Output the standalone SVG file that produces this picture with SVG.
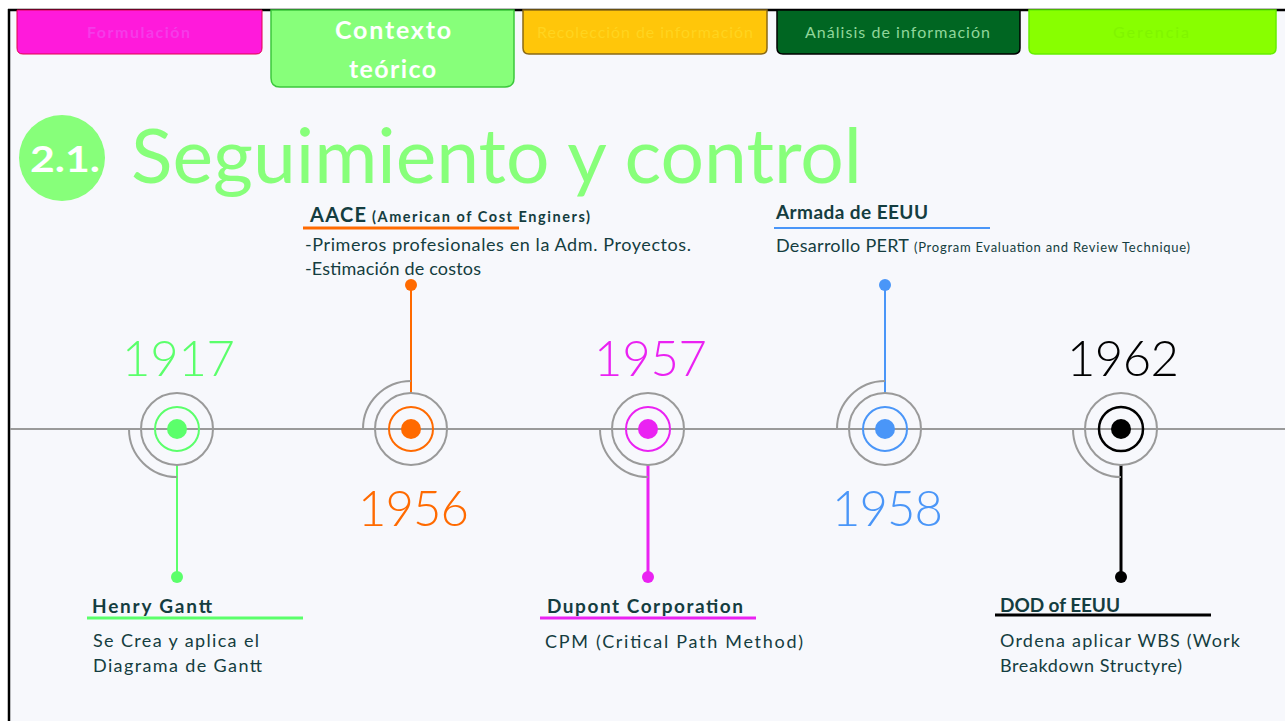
<svg xmlns="http://www.w3.org/2000/svg" width="1285" height="721" viewBox="0 0 1285 721">
<style>
  text { font-family: Lato, "Liberation Sans", sans-serif; }
  .tab { font-size: 16px; }
  .year { font-size: 49px; font-weight: 300; }
  .hd { font-size: 19px; font-weight: bold; fill: #143D40; }
  .bd { font-size: 18px; fill: #143D40; }
  .ring { fill: none; stroke: #9A9A9A; stroke-width: 2; }
  .tl { stroke: #9A9A9A; stroke-width: 2; fill: none; }
</style>
<rect x="0" y="0" width="1285" height="721" fill="#FFFFFF"/>
<rect x="9" y="10" width="1276" height="711" fill="#F7F8FC"/>
<line x1="8" y1="10" x2="1285" y2="10" stroke="#000" stroke-width="2.5"/>
<line x1="9" y1="9" x2="9" y2="721" stroke="#000" stroke-width="2.5"/>

<g id="tabs">
  <g id="tab-formulacion">
    <path d="M17,10 H262 V48 Q262,54 256,54 H23 Q17,54 17,48 Z" fill="#FF1ADB" stroke="#E0004A" stroke-width="1"/>
    <text class="tab" x="87" y="38" fill="#F53BE8" font-weight="bold" textLength="103">Formulación</text>
  </g>
  <g id="tab-contexto">
    <path d="M271,10 H514 V78 Q514,87 505,87 H280 Q271,87 271,78 Z" fill="#87FF7A" stroke="#3CC83C" stroke-width="1.5"/>
    <text x="335" y="39" fill="#FFFFFF" font-size="25" font-weight="bold" textLength="116">Contexto</text>
    <text x="349" y="78" fill="#FFFFFF" font-size="25" font-weight="bold" textLength="87">teórico</text>
  </g>
  <g id="tab-recoleccion">
    <path d="M523,10 H767 V48 Q767,54 761,54 H529 Q523,54 523,48 Z" fill="#FFC60A" stroke="#8B6914" stroke-width="1.5"/>
    <text class="tab" x="537" y="38" fill="#FFD41F" textLength="216">Recolección de información</text>
  </g>
  <g id="tab-analisis">
    <path d="M777,10 H1020 V48 Q1020,54 1014,54 H783 Q777,54 777,48 Z" fill="#006622" stroke="#000" stroke-width="1.5"/>
    <text class="tab" x="805" y="38" fill="#8FD69A" textLength="185">Análisis de información</text>
  </g>
  <g id="tab-gerencia">
    <path d="M1029,10 H1276 V48 Q1276,54 1270,54 H1035 Q1029,54 1029,48 Z" fill="#88FF00" stroke="#66EE00" stroke-width="1.5"/>
    <text class="tab" x="1113" y="38" fill="#80F500" textLength="76">Gerencia</text>
  </g>
</g>

<g id="title">
  <circle cx="62" cy="158" r="43" fill="#87FF7A"/>
  <text x="30" y="172" fill="#FFFFFF" font-size="37" font-weight="bold" textLength="70" lengthAdjust="spacingAndGlyphs">2.1.</text>
  <text x="131" y="183" fill="#87FF7A" font-size="76" textLength="731" lengthAdjust="spacingAndGlyphs">Seguimiento y control</text>
</g>

<line id="timeline" x1="10" y1="429" x2="1285" y2="429" class="tl"/>

<g id="connectors">
  <line x1="177" y1="465" x2="177" y2="577" stroke="#5BFF6B" stroke-width="2"/>
  <line x1="411" y1="393" x2="411" y2="285" stroke="#FF6A00" stroke-width="2"/>
  <line x1="648" y1="465" x2="648" y2="577" stroke="#EA22F2" stroke-width="3"/>
  <line x1="885" y1="393" x2="885" y2="285" stroke="#4A96F8" stroke-width="2"/>
  <line x1="1121" y1="465" x2="1121" y2="577" stroke="#000" stroke-width="3"/>
</g>

<g id="node-1917">
  <path class="ring" d="M129,429 A48,48 0 0 0 177,477"/>
  <circle class="ring" cx="177" cy="429" r="36"/>
  <circle cx="177" cy="429" r="22" fill="none" stroke="#5BFF6B" stroke-width="2"/>
  <circle cx="177" cy="429" r="10" fill="#5BFF6B"/>
  <circle cx="177" cy="577" r="6" fill="#5BFF6B"/>
  <text class="year" x="122" y="376" fill="#5BFF6B" textLength="113">1917</text>
  <text class="hd" x="92" y="613" textLength="120">Henry Gantt</text>
  <line x1="87" y1="618" x2="303" y2="618" stroke="#5BFF6B" stroke-width="3"/>
  <text class="bd" x="93" y="647" textLength="166">Se Crea y aplica el</text>
  <text class="bd" x="93" y="672" textLength="169">Diagrama de Gantt</text>
</g>

<g id="node-1956">
  <path class="ring" d="M363,429 A48,48 0 0 1 411,381"/>
  <circle class="ring" cx="411" cy="429" r="36"/>
  <circle cx="411" cy="429" r="22" fill="none" stroke="#FF6A00" stroke-width="2"/>
  <circle cx="411" cy="429" r="10" fill="#FF6A00"/>
  <circle cx="411" cy="285" r="6" fill="#FF6A00"/>
  <text class="year" x="358" y="526" fill="#FF6A00" textLength="111">1956</text>
  <text x="310" y="222" fill="#143D40" font-weight="bold" font-size="20" textLength="56">AACE</text>
  <text x="372" y="222" fill="#143D40" font-weight="bold" font-size="14.5" textLength="218">(American of Cost Enginers)</text>
  <line x1="303" y1="228" x2="519" y2="228" stroke="#FF6A00" stroke-width="3"/>
  <text class="bd" x="305" y="251" textLength="386">-Primeros profesionales en la Adm. Proyectos.</text>
  <text class="bd" x="305" y="275" textLength="176">-Estimación de costos</text>
</g>

<g id="node-1957">
  <path class="ring" d="M600,429 A48,48 0 0 0 648,477"/>
  <circle class="ring" cx="648" cy="429" r="36"/>
  <circle cx="648" cy="429" r="22" fill="none" stroke="#EA22F2" stroke-width="2"/>
  <circle cx="648" cy="429" r="10" fill="#EA22F2"/>
  <circle cx="648" cy="577" r="6" fill="#EA22F2"/>
  <text class="year" x="594" y="376" fill="#EA22F2" textLength="113">1957</text>
  <text class="hd" x="547" y="613" textLength="196">Dupont Corporation</text>
  <line x1="540" y1="618" x2="756" y2="618" stroke="#EA22F2" stroke-width="3"/>
  <text class="bd" x="545" y="648" font-size="19" textLength="258">CPM (Critical Path Method)</text>
</g>

<g id="node-1958">
  <path class="ring" d="M837,429 A48,48 0 0 1 885,381"/>
  <circle class="ring" cx="885" cy="429" r="36"/>
  <circle cx="885" cy="429" r="22" fill="none" stroke="#4A96F8" stroke-width="2"/>
  <circle cx="885" cy="429" r="10" fill="#4A96F8"/>
  <circle cx="885" cy="285" r="6" fill="#4A96F8"/>
  <text class="year" x="832" y="526" fill="#4A96F8" textLength="111">1958</text>
  <text class="hd" x="776" y="219" font-size="18" textLength="152">Armada de EEUU</text>
  <line x1="774" y1="228" x2="990" y2="228" stroke="#4A96F8" stroke-width="2"/>
  <text class="bd" x="776" y="252" textLength="133">Desarrollo PERT</text>
  <text x="914" y="252" fill="#143D40" font-size="13" textLength="276">(Program Evaluation and Review Technique)</text>
</g>

<g id="node-1962">
  <path class="ring" d="M1073,429 A48,48 0 0 0 1121,477"/>
  <circle class="ring" cx="1121" cy="429" r="36"/>
  <circle cx="1121" cy="429" r="22" fill="none" stroke="#000" stroke-width="2.5"/>
  <circle cx="1121" cy="429" r="10" fill="#000"/>
  <circle cx="1121" cy="577" r="6" fill="#000"/>
  <text class="year" x="1067" y="376" fill="#000" textLength="112">1962</text>
  <text class="hd" x="1000" y="612" font-size="18" textLength="120">DOD of EEUU</text>
  <line x1="995" y1="615" x2="1211" y2="615" stroke="#000" stroke-width="3"/>
  <text class="bd" x="1000" y="647" textLength="240">Ordena aplicar WBS (Work</text>
  <text class="bd" x="1000" y="672" textLength="182">Breakdown Structyre)</text>
</g>
</svg>
